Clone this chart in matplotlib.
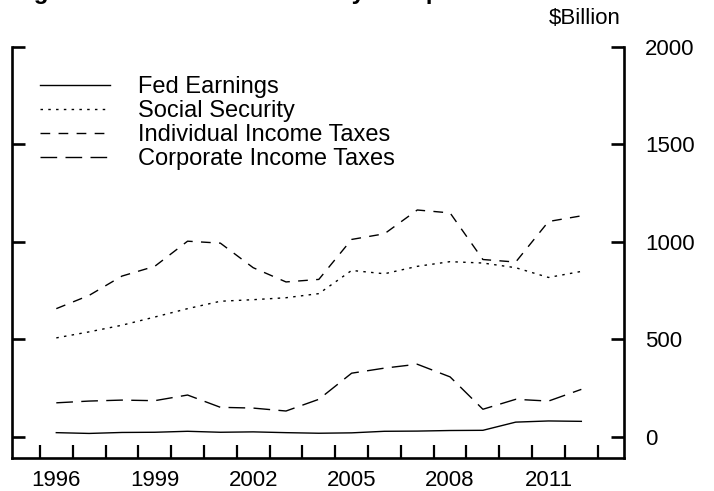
import numpy as np
import matplotlib
matplotlib.use('Agg')
import matplotlib.pyplot as plt
from matplotlib.ticker import FixedLocator

plt.rcParams['font.family'] = ['Liberation Sans', 'DejaVu Sans']

# Data ($Billion)
years = list(range(1996, 2013))
fed_earnings = [22, 18, 23, 24, 29, 24, 26, 22, 19, 21, 29, 30, 33, 34, 76, 82, 80]
social_security = [508, 539, 573, 615, 658, 696, 704, 714, 735, 854, 837, 875, 899,
                   892, 868, 818, 849]
individual_tax = [658, 726, 825, 875, 1004, 994, 868, 795, 808, 1013, 1042, 1164,
                  1149, 910, 897, 1105, 1134]
corporate_tax = [175, 184, 189, 186, 215, 152, 148, 133, 193, 327, 353, 373, 308,
                 142, 193, 184, 244]

series = [
    ('Fed Earnings', fed_earnings, '-'),
    ('Social Security', social_security, (0, (1.8, 3.8))),
    ('Individual Income Taxes', individual_tax, (0, (7, 6))),
    ('Corporate Income Taxes', corporate_tax, (0, (12, 6))),
]
year_labels = [1996, 1999, 2002, 2005, 2008, 2011]
y_ticks = [0, 500, 1000, 1500, 2000]

fig = plt.figure(figsize=(7.14, 4.91), dpi=100)
ax = fig.add_axes([12 / 714, 1 - 458 / 491, 612 / 714, 411 / 491])

for name, vals, ls in series:
    ax.plot(years, vals, color='black', lw=1.0, ls=ls, label=name)

ax.set_xlim(1994.65, 2013.3)
ax.set_ylim(-108, 2000)

for side in ['left', 'right', 'bottom']:
    ax.spines[side].set_linewidth(1.9)
ax.spines['top'].set_visible(False)

ax.yaxis.set_major_locator(FixedLocator(y_ticks))
ax.tick_params(axis='y', which='major', direction='in', length=9.5, width=1.9,
               left=True, right=True, labelleft=False, labelright=True,
               labelsize=16, pad=15)

ax.xaxis.set_major_locator(FixedLocator(year_labels))
ax.xaxis.set_minor_locator(FixedLocator(np.arange(1995.5, 2013, 1.0)))
ax.tick_params(axis='x', which='major', length=0, labelsize=16, pad=8.5)
ax.tick_params(axis='x', which='minor', direction='in', length=9.5, width=1.6)

fig.text(585 / 714, 1 - 19 / 491, '$Billion', ha='center', va='center', size=16)
fig.text(12 / 714, 1 + 1 / 491, 'Figure 2: Federal Revenues by Component',
         weight='bold', size=17.5, va='baseline')

ax.legend(loc='upper left', bbox_to_anchor=(40 / 714, 1 - 76 / 491),
          bbox_transform=fig.transFigure, frameon=False, fontsize=17,
          borderpad=0, borderaxespad=0, handlelength=2.97, handletextpad=1.19,
          labelspacing=0.09)

fig.savefig('out.png', dpi=100)
